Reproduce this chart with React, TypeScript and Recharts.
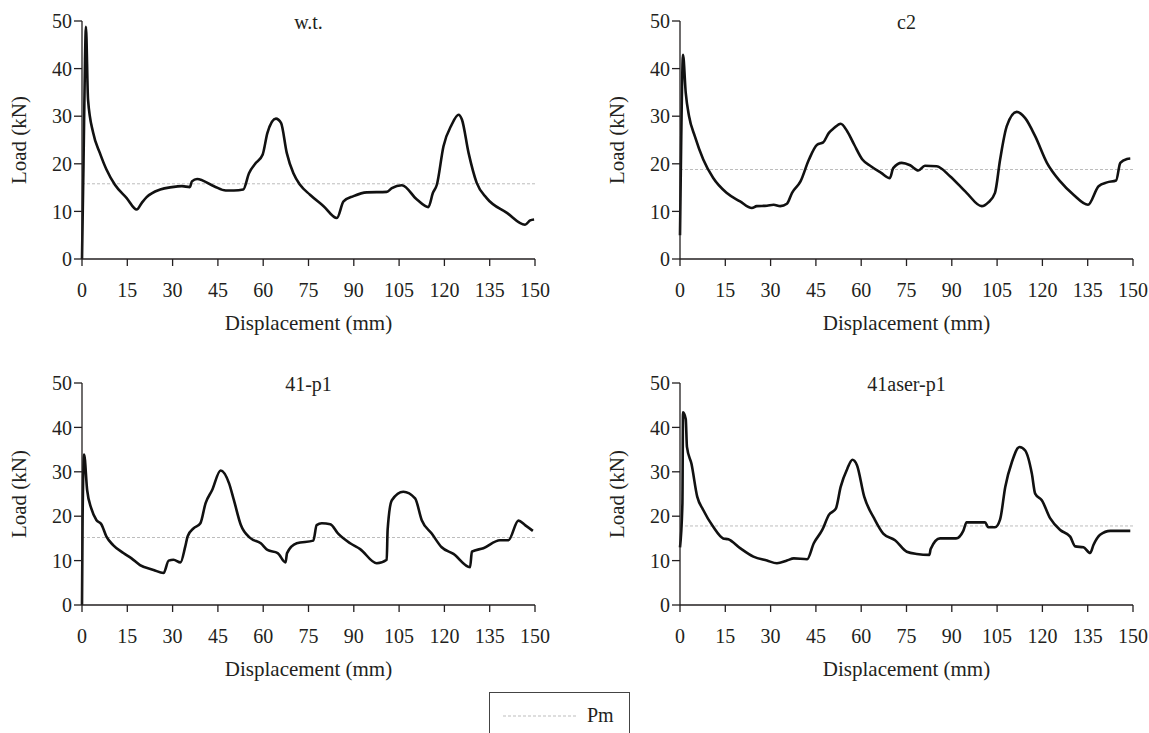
import { LineChart, Line, XAxis, YAxis, ReferenceLine } from 'recharts'

const xTicks = [0, 15, 30, 45, 60, 75, 90, 105, 120, 135, 150]
const yTicks = [0, 10, 20, 30, 40, 50]

// w.t.
const wtX = [0, 0.5, 1.0, 1.3, 2, 3.7, 5.9, 8.1, 10.9, 14.8, 18.1, 19.8, 21.4, 25.9, 29.8, 33.1, 35.7, 36.4, 38.1, 43.7, 47.6, 50.3, 53.4, 55.3, 57.6, 59.8, 61.4, 64.2, 65.9, 67.8, 70, 72.2, 75.5, 80, 84.4, 86.6, 89.9, 94.3, 100.9, 102.6, 105.9, 110.9, 114.7, 116.2, 117.5, 119.7, 122.4, 124.7, 125.8, 128, 130.7, 134, 140.7, 146.7, 148.4, 149.7]
const wtY = [0, 20, 42, 48.8, 33.5, 26.5, 22.3, 18.8, 15.6, 12.8, 10.4, 11.8, 13, 14.6, 15.1, 15.3, 15.1, 16.3, 16.8, 15.3, 14.4, 14.4, 14.6, 18, 20.2, 21.9, 26.5, 29.5, 28.6, 22.3, 18, 15.6, 13.5, 11.1, 8.6, 12.1, 13.2, 14, 14.1, 14.9, 15.5, 12.5, 10.9, 13.9, 15.6, 23.7, 28.2, 30.3, 29.3, 22.3, 16, 12.8, 9.7, 7.2, 8.1, 8.3]
const wtPm = 15.8

// c2
const c2X = [0, 0.4, 1.0, 1.9, 3, 4.9, 7.7, 11, 15.4, 19.9, 23.8, 25.4, 28.8, 31, 33.2, 35.4, 37.1, 39.9, 42.7, 45.4, 47.4, 49.3, 51, 53.2, 55.4, 57.7, 60.4, 63.2, 66.6, 69.5, 70.6, 73.4, 76.2, 78.9, 81.1, 85, 89.4, 94.9, 99.9, 102.1, 104.3, 106, 108.2, 111.5, 114.3, 117.6, 121.5, 125.9, 130.3, 135.1, 138.6, 141.4, 144.4, 145.8, 148, 149.1]
const c2Y = [5, 25, 42.9, 34.9, 30, 25.8, 20.9, 17, 13.9, 12.1, 10.7, 11.1, 11.2, 11.4, 11.1, 11.6, 13.9, 16.3, 20.9, 24, 24.5, 26.5, 27.5, 28.4, 26.8, 24, 20.9, 19.5, 18.1, 17, 19.1, 20.2, 19.7, 18.6, 19.6, 19.5, 17.4, 13.9, 11.1, 11.9, 13.9, 20.9, 27.9, 30.9, 29.6, 25.8, 20.2, 16.3, 13.5, 11.4, 15.3, 16.1, 16.5, 20.2, 21, 21.1]
const c2Pm = 18.8

// 41-p1
const p1X = [0, 0.2, 0.7, 1.7, 3.1, 4.8, 6.4, 8.1, 10.3, 13.7, 16.4, 19.2, 23.7, 27, 28.7, 30.3, 32.6, 34.2, 35, 37, 39.2, 40.9, 43.1, 45.9, 48.7, 50.3, 52.6, 55.9, 59.2, 61.4, 64.8, 67.4, 67.9, 71.1, 76.6, 77.7, 79.4, 82.2, 84.9, 88.8, 92.1, 97.6, 100.9, 101.2, 102.6, 106.4, 110.3, 112.5, 115.8, 119.1, 123, 128.5, 129.1, 132.9, 138.4, 141.2, 144.5, 146.7, 149.3]
const p1Y = [0, 20, 33.9, 25.9, 21.7, 19.1, 18.2, 15.4, 13.5, 11.7, 10.5, 9, 7.9, 7.2, 10, 10.2, 9.6, 13.2, 15.5, 17.3, 18.4, 22.9, 25.9, 30.3, 27.4, 23.6, 18, 15, 13.9, 12.4, 11.7, 9.6, 11.7, 13.9, 14.5, 18, 18.4, 18.2, 16, 13.9, 12.6, 9.4, 10.2, 16.9, 23.6, 25.5, 24, 19.1, 16.1, 13, 11.5, 8.5, 12, 12.8, 14.6, 14.6, 19, 18, 16.7]
const p1Pm = 15.2

// 41aser-p1
const asX = [0, 0.8, 1.0, 1.9, 2.3, 3.8, 5.7, 7.7, 11, 14.3, 16, 19.9, 24.3, 28.8, 32.1, 35.4, 37.7, 42.1, 44.3, 47.1, 49.3, 51.6, 53.2, 55.4, 57.1, 58.6, 61, 64.3, 67.3, 71.2, 75.1, 78.4, 82.6, 83, 86.1, 91.4, 93.8, 94.9, 101, 102.1, 104.3, 106, 107.7, 109.9, 112.4, 114.3, 116.5, 117.6, 119.8, 122.6, 125.9, 129.2, 130.9, 133.6, 135.8, 136.9, 139.1, 142.5, 149.1]
const asY = [13, 22.9, 43.4, 41.9, 35.6, 31.8, 24.4, 21.4, 17.6, 15, 14.8, 12.8, 10.9, 10, 9.4, 10, 10.5, 10.3, 13.9, 16.9, 20.3, 21.7, 26.6, 30.7, 32.7, 31.5, 24.4, 19.5, 16.1, 14.6, 12, 11.5, 11.3, 12.6, 15, 15, 16.7, 18.6, 18.6, 17.5, 17.5, 19.3, 26.6, 32.2, 35.6, 34.8, 29.6, 25.1, 23.6, 19.5, 16.9, 15.4, 13.2, 13, 11.7, 13.5, 15.8, 16.7, 16.7]
const asPm = 17.8

const serif = "'Liberation Serif', 'DejaVu Serif', 'Times New Roman', Times, serif"
const ink = '#231f20'
const tickStyle = { fill: ink, fontSize: 20, style: { fontFamily: serif } }

const PLOT_LEFT = 82
const PLOT_W = 453

function YLabel(props: any) {
  const vb = props.viewBox
  const cx = vb.x + 17
  const cy = vb.y + vb.height / 2
  return (
    <text x={cx} y={cy} transform={`rotate(-90 ${cx} ${cy})`} textAnchor="middle" dominantBaseline="central"
      style={{ fill: ink, fontSize: 21, fontFamily: serif }}>
      Load (kN)
    </text>
  )
}

function XLabel(props: any) {
  const vb = props.viewBox
  return (
    <text x={vb.x + vb.width / 2} y={vb.y + vb.height - 10} textAnchor="middle"
      style={{ fill: ink, fontSize: 21, fontFamily: serif }}>
      Displacement (mm)
    </text>
  )
}

interface PanelProps {
  title: string
  xs: number[]
  ys: number[]
  pm: number
  left: number
  top: number
  width: number
  height: number
}

function Panel({ title, xs, ys, pm, left, top, width, height }: PanelProps) {
  const data = xs.map((x, i) => ({ x, load: ys[i] }))
  return (
    <div style={{ position: 'absolute', left, top, width, height }}>
      <LineChart width={width} height={height} data={data} style={{ fontFamily: serif }}
        margin={{ top: 21, right: width - PLOT_LEFT - PLOT_W, left: 2, bottom: 0 }}>
        <XAxis dataKey="x" type="number" domain={[0, 150]} ticks={xTicks} interval={0}
          height={81} tickSize={7} tickMargin={17}
          axisLine={{ stroke: ink, strokeWidth: 1.3 }} tickLine={{ stroke: ink, strokeWidth: 1.3 }}
          tick={tickStyle} label={<XLabel />} />
        <YAxis type="number" domain={[0, 50]} ticks={yTicks} interval={0} width={80}
          tickSize={8} tickMargin={2}
          axisLine={{ stroke: ink, strokeWidth: 1.3 }} tickLine={{ stroke: ink, strokeWidth: 1.3 }}
          tick={tickStyle} label={<YLabel />} />
        <ReferenceLine y={pm} stroke="#bdbdbd" strokeWidth={1} strokeDasharray="3 2" />
        <Line dataKey="load" type="monotone" stroke="#111" strokeWidth={2.6} dot={false}
          isAnimationActive={false} />
      </LineChart>
      <div style={{
        position: 'absolute', left: PLOT_LEFT, width: PLOT_W, top: 10, lineHeight: '24px',
        textAlign: 'center', fontSize: 20, fontFamily: serif, color: ink,
      }}>{title}</div>
    </div>
  )
}

export default function App() {
  return (
    <div style={{ position: 'absolute', left: 0, top: 0, width: 1149, height: 733, overflow: 'hidden', background: '#fff', fontFamily: serif }}>
      <Panel title="w.t." xs={wtX} ys={wtY} pm={wtPm} left={0} top={0} width={560} height={340} />
      <Panel title="c2" xs={c2X} ys={c2Y} pm={c2Pm} left={598} top={0} width={551} height={340} />
      <Panel title="41-p1" xs={p1X} ys={p1Y} pm={p1Pm} left={0} top={362} width={560} height={324} />
      <Panel title="41aser-p1" xs={asX} ys={asY} pm={asPm} left={598} top={362} width={551} height={324} />

      {/* legend */}
      <div style={{
        position: 'absolute', left: 489, top: 692, width: 141, height: 60,
        border: '1px solid #444', boxSizing: 'border-box',
      }}>
        <svg width={90} height={40} style={{ position: 'absolute', left: 13, top: 0 }}>
          <line x1={0} x2={74} y1={23} y2={23} stroke="#bdbdbd" strokeWidth={1} strokeDasharray="3 2" />
        </svg>
        <span style={{
          position: 'absolute', left: 97, top: 10, lineHeight: '24px',
          fontSize: 20, fontFamily: serif, color: ink,
        }}>Pm</span>
      </div>
    </div>
  )
}
